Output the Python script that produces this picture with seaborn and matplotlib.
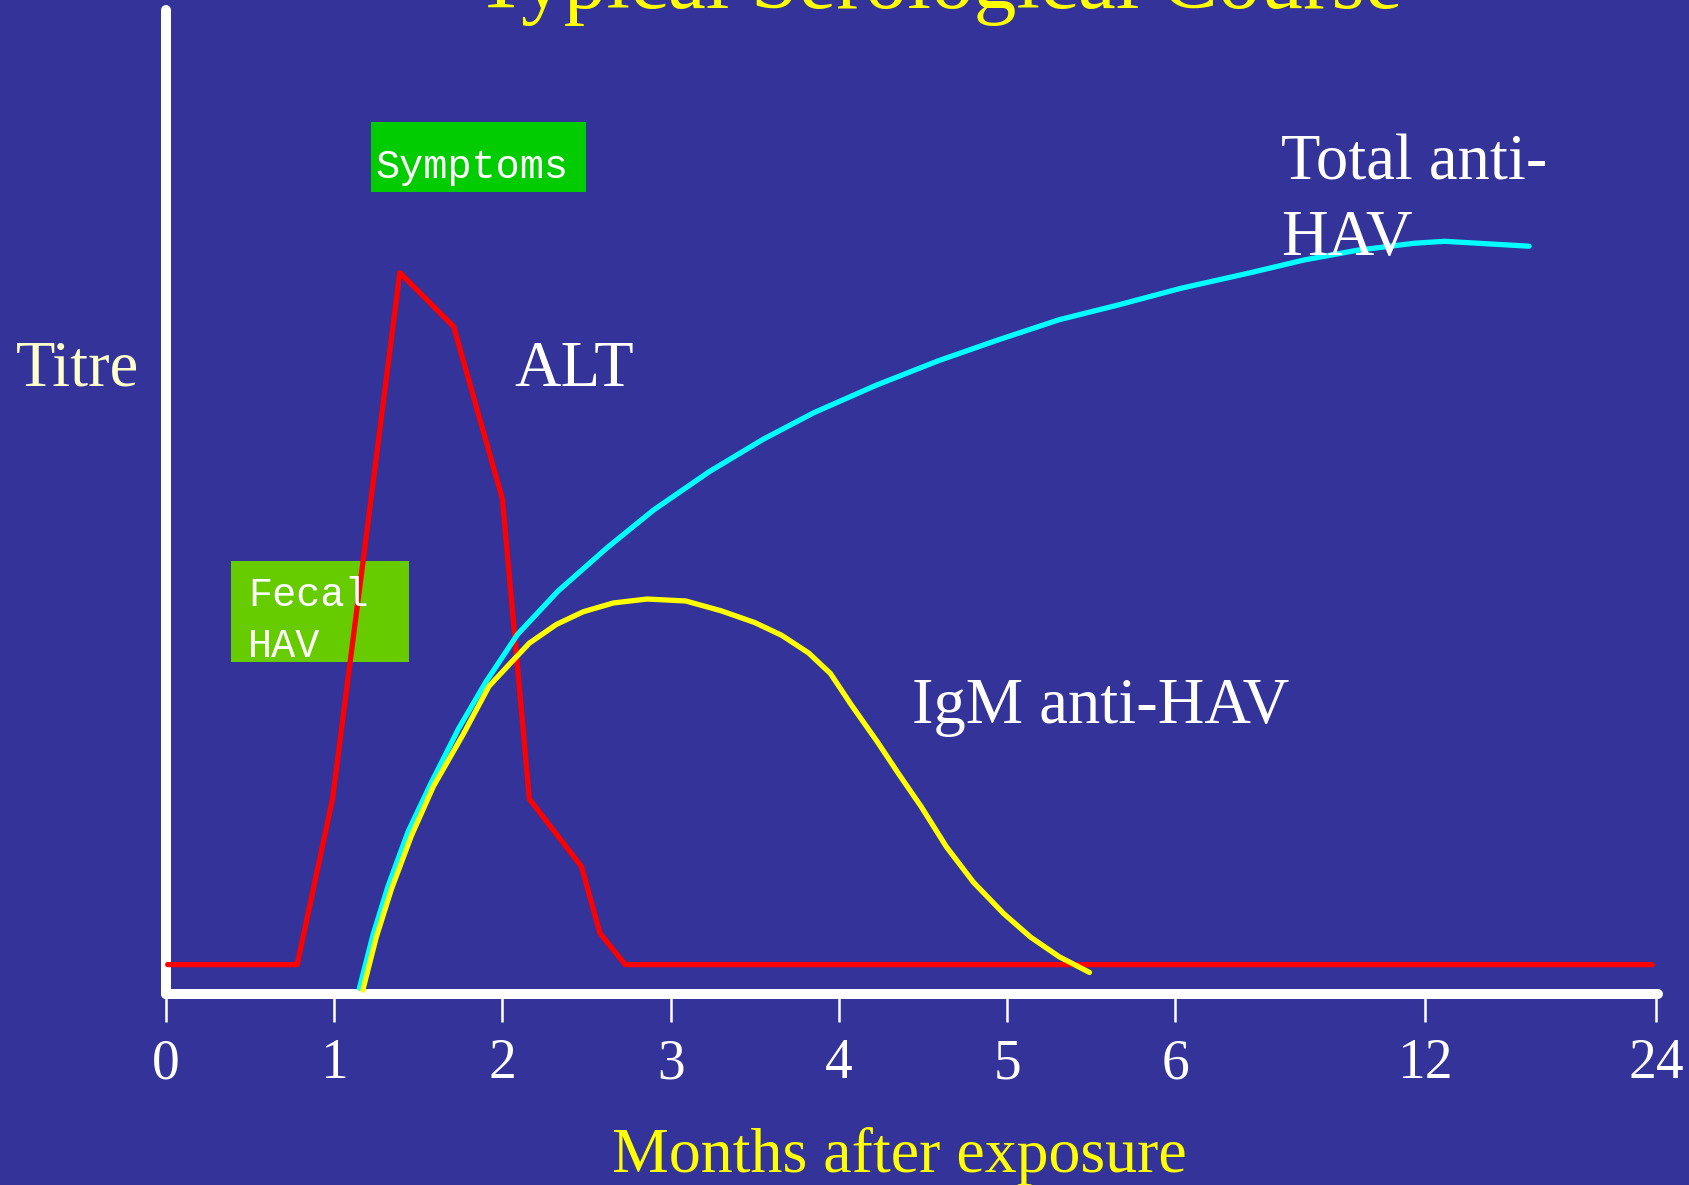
import numpy as np
import pandas as pd
import matplotlib
matplotlib.use("Agg")
import matplotlib.pyplot as plt
from matplotlib.patches import Rectangle
import seaborn as sns

# ---------------- data ----------------
tick_months = [0, 1, 2, 3, 4, 5, 6, 12, 24]
tick_labels = ["0", "1", "2", "3", "4", "5", "6", "12", "24"]

alt_months = [0.01, 0.78, 0.99, 1.18, 1.39, 1.71, 2.00, 2.16, 2.47, 2.58, 2.73, 23.8]
alt_titre = [2.7, 2.7, 19.6, 45.0, 73.3, 67.8, 50.2, 19.6, 12.7, 5.9, 2.7, 2.7]

total_months = [1.15, 1.23, 1.32, 1.44, 1.575, 1.74, 1.90, 2.09, 2.33, 2.62, 2.90,
                3.23, 3.55, 3.85, 4.22, 4.59, 4.94, 5.31, 5.66, 6.13, 7.81, 9.10,
                10.39, 11.74, 13.0, 17.4]
total_titre = [0.3, 5.7, 10.7, 16.3, 21.2, 26.8, 31.5, 36.4, 40.8, 45.2, 49.1,
               53.0, 56.3, 59.0, 61.8, 64.3, 66.4, 68.5, 70.0, 71.7, 73.3, 74.6,
               75.6, 76.3, 76.5, 76.0]

igm_months = [1.17, 1.25, 1.34, 1.46, 1.59, 1.77, 1.92, 2.05, 2.16, 2.32, 2.48,
              2.66, 2.86, 3.09, 3.30, 3.50, 3.66, 3.82, 3.95, 4.07, 4.23, 4.35,
              4.49, 4.64, 4.80, 4.98, 5.14, 5.31, 5.49]
igm_titre = [0.1, 5.5, 10.4, 15.9, 20.9, 26.3, 31.1, 33.5, 35.5, 37.4, 38.7,
             39.6, 40.0, 39.8, 38.8, 37.6, 36.3, 34.5, 32.4, 29.3, 25.4, 22.3,
             18.8, 14.7, 11.1, 7.9, 5.5, 3.5, 1.9]

# ---------------- style ----------------
BG = "#333399"
sns.set_style("white", {"axes.facecolor": BG, "figure.facecolor": BG})
plt.rcParams["font.family"] = ["Liberation Serif", "DejaVu Serif"]

W, H = 1689, 1185
fig = plt.figure(figsize=(W / 100, H / 100), dpi=100, facecolor=BG)
ax = fig.add_axes([166 / W, 191 / H, 1492 / W, 984 / H])
ax.set_facecolor(BG)

# piecewise-linear month axis (0..6 evenly, then 12, 24 compressed)
map_m = np.array([0, 1, 2, 3, 4, 5, 6, 12, 24, 48], dtype=float)
map_p = np.array([0, 1, 2, 3, 4, 5, 6, 7.485, 8.858, 11.604])


def fwd(m):
    return np.interp(m, map_m, map_p)


def inv(p):
    return np.interp(p, map_p, map_m)


ax.set_xscale("function", functions=(fwd, inv))

df_alt = pd.DataFrame({"m": alt_months, "t": alt_titre})
df_tot = pd.DataFrame({"m": total_months, "t": total_titre})
df_igm = pd.DataFrame({"m": igm_months, "t": igm_titre})

sns.lineplot(data=df_alt, x="m", y="t", ax=ax, color="#FF0000", lw=3.8,
             sort=False, estimator=None, zorder=3, clip_on=False)
sns.lineplot(data=df_tot, x="m", y="t", ax=ax, color="#00FFFF", lw=3.8,
             sort=False, estimator=None, zorder=4, clip_on=False)
sns.lineplot(data=df_igm, x="m", y="t", ax=ax, color="#FFFF00", lw=3.8,
             sort=False, estimator=None, zorder=5, clip_on=False)

ax.set_xlim(0, 24.1)
ax.set_ylim(-0.3, 100.1)
ax.set_xlabel("")
ax.set_ylabel("")
ax.set_yticks([])
ax.set_xticks(tick_months)
ax.set_xticklabels(tick_labels)
ax.tick_params(axis="x", direction="out", length=20, width=1.8, color="white",
               pad=12, labelsize=40, labelcolor="white", bottom=True)
for s in ["top", "right"]:
    ax.spines[s].set_visible(False)
for s in ["left", "bottom"]:
    ax.spines[s].set_color("white")
    ax.spines[s].set_linewidth(7.2)
    ax.spines[s].set_capstyle("round")

# boxes
ax.add_patch(Rectangle((371 / W, 1 - 192 / H), 215 / W, 70 / H,
                       transform=fig.transFigure, facecolor="#00CC00",
                       edgecolor="none", zorder=1, clip_on=False))
ax.add_patch(Rectangle((231 / W, 1 - 662 / H), 178 / W, 101 / H,
                       transform=fig.transFigure, facecolor="#66CC00",
                       edgecolor="none", zorder=1, clip_on=False))

mono = ["Liberation Mono", "DejaVu Sans Mono"]
fig.text(375 / W, 1 - 178 / H, "Symptoms", family=mono, size=29,
         color="white", ha="left", va="baseline")
fig.text(248 / W, 1 - 606 / H, "Fecal", family=mono, size=29,
         color="white", ha="left", va="baseline")
fig.text(248 / W, 1 - 657 / H, "HAV", family=mono, size=29,
         color="white", ha="left", va="baseline")

# texts
fig.text(939 / W, 1 - 8 / H, "Typical Serological Course", size=61.4,
         color="#FFFF00", ha="center", va="baseline")
fig.text(899 / W, 1 - 1172 / H, "Months after exposure", size=46,
         color="#FFFF00", ha="center", va="baseline")
fig.text(16 / W, 1 - 386 / H, "Titre", size=46.5, color="#FFFFCC",
         ha="left", va="baseline")
fig.text(514 / W, 1 - 386 / H, "ALT", size=46.5, color="white",
         ha="left", va="baseline")
fig.text(912 / W, 1 - 723 / H, "IgM anti-HAV", size=46.5, color="white",
         ha="left", va="baseline")
fig.text(1281 / W, 1 - 179 / H, "Total anti-", size=46.5, color="white",
         ha="left", va="baseline")
fig.text(1281 / W, 1 - 255 / H, "HAV", size=46.5, color="white",
         ha="left", va="baseline")

fig.savefig("out.png", dpi=100, facecolor=BG)
